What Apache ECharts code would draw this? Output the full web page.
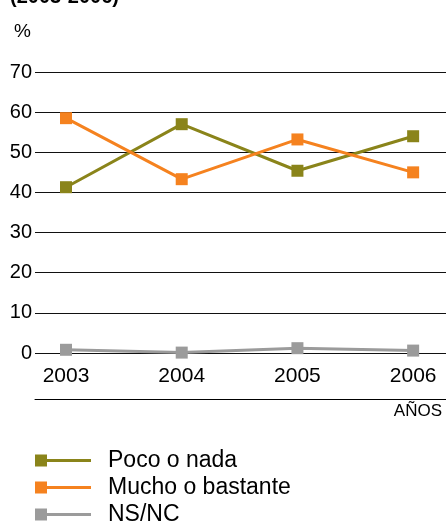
<!DOCTYPE html>
<html><head><meta charset="utf-8">
<script src="https://cdn.jsdelivr.net/npm/echarts@6/dist/echarts.min.js"></script>
<style>html,body{margin:0;padding:0;background:#fff}#c{width:446px;height:521px}</style>
</head><body><div id="c"></div>
<script>
const years = [2003, 2004, 2005, 2006];
const pocoNada = [41.3, 57.0, 45.4, 54.0];
const muchoBastante = [58.5, 43.3, 53.2, 45.0];
const nsnc = [0.8, 0.1, 1.2, 0.6];
const yTicks = [0, 10, 20, 30, 40, 50, 60, 70];
const seriesNames = ['Poco o nada', 'Mucho o bastante', 'NS/NC'];
const colors = ['#8a841a', '#f5821f', '#9b9b9b'];

const FONT = 'Liberation Sans, Arial, sans-serif';
const pairs = arr => years.map((y, i) => [y, arr[i]]);
const xmin = 2002.732, xmax = 2006.284;

const chart = echarts.init(document.getElementById('c'));
chart.setOption({
  animation: false,
  textStyle: { fontFamily: FONT, color: '#000' },
  title: {
    text: '(' + years[0] + '-' + years[years.length - 1] + ')',
    left: 5, top: -18,
    textStyle: { fontFamily: FONT, fontSize: 20, fontWeight: 'bold', color: '#000' }
  },
  grid: { left: 35, right: 0, top: 72, bottom: 168, containLabel: false },
  xAxis: [{
    type: 'value', min: xmin, max: xmax,
    axisLine: { show: false }, axisTick: { show: false }, splitLine: { show: false },
    axisLabel: {
      customValues: years, formatter: v => String(v),
      fontSize: 21, color: '#000', margin: 13, fontFamily: FONT
    }
  }, {
    type: 'value', min: xmin, max: xmax, position: 'bottom', offset: 46,
    axisLine: { show: true, lineStyle: { color: '#000', width: 1 } },
    axisTick: { show: false }, splitLine: { show: false }, axisLabel: { show: false },
    name: 'AÑOS', nameLocation: 'end', nameGap: -4,
    nameTextStyle: { fontSize: 17, color: '#000', align: 'right', verticalAlign: 'top', padding: [4, 0, 0, 0], fontFamily: FONT }
  }],
  yAxis: {
    type: 'value', min: yTicks[0], max: yTicks[yTicks.length - 1], interval: 10,
    axisLine: { show: false }, axisTick: { show: false },
    splitLine: { show: true, lineStyle: { color: '#111', width: 1 } },
    axisLabel: { fontSize: 20, color: '#000', margin: 3, fontFamily: FONT },
    name: '%', nameLocation: 'end', nameGap: 40,
    nameTextStyle: { fontSize: 19, color: '#000', align: 'right', verticalAlign: 'middle', padding: [0, 4, 0, 0], fontFamily: FONT }
  },
  legend: {
    orient: 'vertical', left: 35, top: 449, height: 90, padding: 0,
    itemWidth: 56, itemHeight: 12, itemGap: 4,
    icon: 'path://M0,0H12V12H0Z M12,4.5H56V7.5H12Z',
    textStyle: { fontSize: 23, color: '#000', fontFamily: FONT, padding: [0, 0, 0, 12] },
    data: seriesNames
  },
  series: [
    { name: seriesNames[0], data: pairs(pocoNada) },
    { name: seriesNames[1], data: pairs(muchoBastante) },
    { name: seriesNames[2], data: pairs(nsnc) }
  ].map((s, i) => Object.assign(s, {
    type: 'line', xAxisIndex: 0, symbol: 'rect', symbolSize: 12,
    color: colors[i],
    lineStyle: { width: 3, color: colors[i] },
    itemStyle: { color: colors[i] }
  }))
});
</script></body></html>
